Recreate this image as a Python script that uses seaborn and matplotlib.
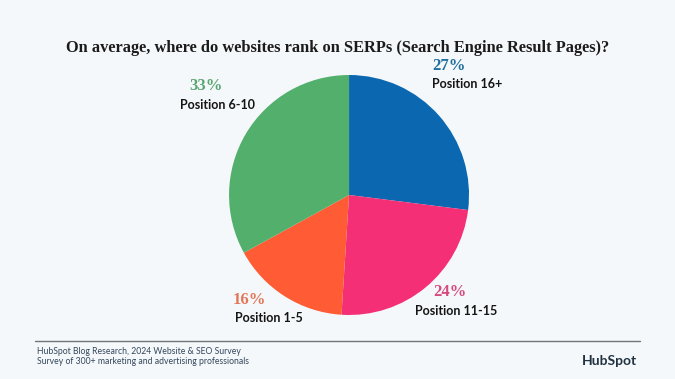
import matplotlib
matplotlib.use("Agg")
import matplotlib.pyplot as plt
import seaborn as sns

# data, clockwise from 12 o'clock
positions = ["Position 16+", "Position 11-15", "Position 1-5", "Position 6-10"]
shares = [27, 24, 16, 33]
slice_colors = ["#0b68b0", "#f42f76", "#ff5c35", "#52b06c"]
pct_colors = ["#1f6e9e", "#d54a7c", "#e27658", "#5aa573"]

title = "On average, where do websites rank on SERPs (Search Engine Result Pages)?"
source = ["HubSpot Blog Research, 2024 Website & SEO Survey",
          "Survey of 300+ marketing and advertising professionals"]

sns.set_style("white")
bg = "#f5f8fa"
fig = plt.figure(figsize=(6.75, 3.79), dpi=100, facecolor=bg)

ax = fig.add_axes([0.3393, 0.1689, 0.3556, 0.6332])
ax.set_facecolor(bg)
ax.pie(shares, colors=sns.color_palette(slice_colors), startangle=90,
       counterclock=False, wedgeprops=dict(linewidth=0))
ax.set_xlim(-1, 1)
ax.set_ylim(-1, 1)
ax.set_aspect("equal")
ax.axis("off")

fig.text(0.5, 0.873, title, ha="center", va="center", fontsize=11.8,
         fontweight="bold", family="Liberation Serif", color="#1b1b1b")

# label anchors in pixels
pct_xy = [(449, 66), (450, 292), (249, 300), (206, 86)]
name_xy = [(467, 84), (456, 311), (269, 318), (217, 105)]


def fx(px):
    return px / 675


def fy(py):
    return 1 - py / 379


for (px, py), (nx, ny), name, pct, c in zip(pct_xy, name_xy, positions, shares, pct_colors):
    fig.text(fx(px), fy(py), f"{pct}%", ha="center", va="center",
             fontsize=12, fontweight="bold", family="Liberation Serif", color=c)
    fig.text(fx(nx), fy(ny), name, ha="center", va="center",
             fontsize=9, fontweight="bold", family="Lato", color="#151515")

fig.lines.append(plt.Line2D([fx(35), fx(640)], [fy(341)] * 2,
                            transform=fig.transFigure, color="#6f7478", lw=1))
fig.text(fx(37), fy(351), source[0], fontsize=6.2, family="Lato",
         color="#33475b", va="center")
fig.text(fx(37), fy(361), source[1], fontsize=6.2, family="Lato",
         color="#33475b", va="center")
fig.text(fx(609), fy(361), "HubSpot", fontsize=10, fontweight="bold",
         family="Lato", color="#213343", ha="center", va="center")

fig.savefig("out.png", dpi=100, facecolor=bg)
